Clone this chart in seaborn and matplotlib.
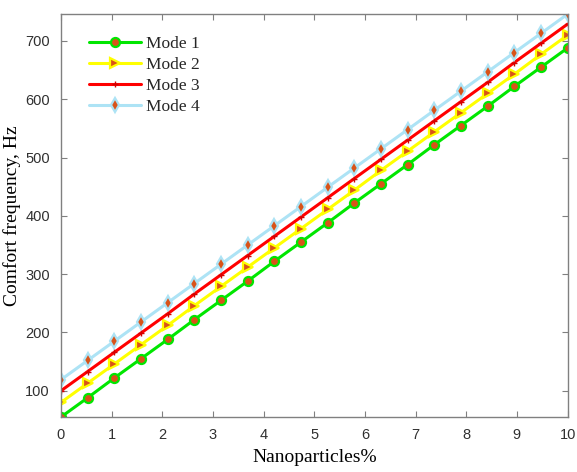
import numpy as np
import pandas as pd
import matplotlib
matplotlib.use("Agg")
import matplotlib.pyplot as plt
import seaborn as sns

# Data
nano = [0.0, 0.526, 1.053, 1.579, 2.105, 2.632, 3.158, 3.684, 4.211, 4.737,
        5.263, 5.789, 6.316, 6.842, 7.368, 7.895, 8.421, 8.947, 9.474, 10.0]
mode1 = [55, 88, 122, 155, 188, 222, 255, 288, 322, 355,
         388, 422, 455, 488, 522, 555, 588, 622, 655, 688]
mode2 = [80, 113, 146, 179, 212, 246, 279, 312, 345, 378,
         411, 444, 478, 511, 544, 577, 610, 643, 677, 710]
mode3 = [100, 133, 166, 199, 232, 266, 299, 332, 365, 398,
         431, 464, 497, 530, 563, 596, 629, 663, 696, 729]
mode4 = [119, 152, 185, 218, 251, 284, 317, 350, 383, 416,
         449, 482, 515, 548, 581, 614, 647, 680, 713, 746]
series_names = ["Mode 1", "Mode 2", "Mode 3", "Mode 4"]
x_ticks = [0, 1, 2, 3, 4, 5, 6, 7, 8, 9, 10]
y_ticks = [100, 200, 300, 400, 500, 600, 700]

sns.set_theme(style="white")
plt.rcParams["font.family"] = ["Liberation Sans", "DejaVu Sans"]

fig = plt.figure(figsize=(5.77, 4.72), dpi=100)
ax = fig.add_axes([0.1057, 0.1165, 0.878, 0.8535])

mark_red = "#D95319"
styles = [
    dict(color="#00E600", marker="o", markersize=6.5, markerfacecolor=mark_red,
         markeredgecolor="#00E600", markeredgewidth=1.6),
    dict(color="#FFFF00", marker=">", markersize=6.5, markerfacecolor=mark_red,
         markeredgecolor="#FFFF00", markeredgewidth=1.6),
    dict(color="#FF0000", marker="+", markersize=4, markerfacecolor="#D00000",
         markeredgecolor="#D00000", markeredgewidth=1.0),
    dict(color="#ADE3F5", marker="d", markersize=7, markerfacecolor=mark_red,
         markeredgecolor="#ADE3F5", markeredgewidth=1.6),
]
for name, vals, st in zip(series_names, [mode1, mode2, mode3, mode4], styles):
    df = pd.DataFrame({"x": nano, "y": vals})
    sns.lineplot(data=df, x="x", y="y", ax=ax, label=name, linewidth=2.2, **st)

ax.set_xlim(0, 10)
ax.set_ylim(55, 746)
ax.set_xticks(x_ticks)
ax.set_yticks(y_ticks)
ax.tick_params(direction="in", top=True, right=True, bottom=True, left=True,
               length=4, width=0.8, colors="#303030", labelsize=10.5, pad=8)
for s in ax.spines.values():
    s.set_visible(True)
    s.set_color("#808080")
    s.set_linewidth(1.0)
ax.tick_params(axis="both", color="#808080")

ax.set_xlabel("Nanoparticles%", fontfamily="Liberation Serif", fontsize=14,
              color="black", labelpad=5)
ax.set_ylabel("Comfort frequency, Hz", fontfamily="Liberation Serif", fontsize=14,
              color="black", labelpad=3)

leg = ax.legend(loc="upper left", frameon=False, handlelength=3.0,
                prop={"family": "Liberation Serif", "size": 12.5},
                bbox_to_anchor=(0.025, 0.985), labelspacing=0.28, handletextpad=0.25)

fig.savefig("out.png", dpi=100)
